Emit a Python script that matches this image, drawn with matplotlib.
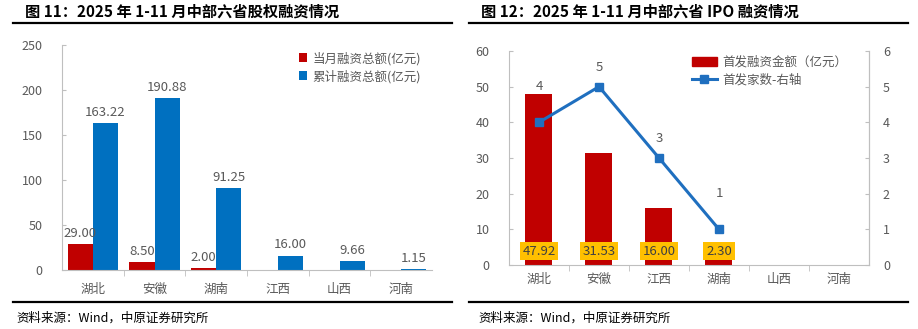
import numpy as np
import matplotlib
matplotlib.use('Agg')
import matplotlib.pyplot as plt
from matplotlib.lines import Line2D
from matplotlib.patches import Patch

plt.rcParams['font.family'] = ['Noto Sans CJK SC', 'DejaVu Sans']

# ---- data ----
prov_left = ['湖北', '安徽', '湖南', '江西', '山西', '河南']
month_total = [29.00, 8.50, 2.00, 0, 0, 0]
cum_total = [163.22, 190.88, 91.25, 16.00, 9.66, 1.15]

prov_right = ['湖北', '安徽', '江西', '湖南', '山西', '河南']
ipo_amount = [47.92, 31.53, 16.00, 2.30, 0, 0]
ipo_count = [4, 5, 3, 1]

RED = '#C00000'
BLUE = '#0070C0'
LINE = '#1F6FBF'
GRAY = '#595959'
SPINE = '#BFBFBF'

W, H = 918, 329
fig = plt.figure(figsize=(W / 100, H / 100), dpi=100, facecolor='white')


def px(x0, y0, x1, y1):
    return [x0 / W, 1 - y1 / H, (x1 - x0) / W, (y1 - y0) / H]


# titles, rules, footers
fig.text(25 / W, 1 - 12 / H, '图 11：2025 年 1-11 月中部六省股权融资情况', fontsize=11,
         fontweight='bold', va='center', ha='left')
fig.text(481 / W, 1 - 12 / H, '图 12：2025 年 1-11 月中部六省 IPO 融资情况', fontsize=11,
         fontweight='bold', va='center', ha='left')
for x0, x1 in [(13, 452), (469, 908)]:
    fig.add_artist(Line2D([x0 / W, x1 / W], [1 - 23 / H] * 2, color='black', lw=1.6))
    fig.add_artist(Line2D([x0 / W, x1 / W], [1 - 302 / H] * 2, color='black', lw=1.6))
fig.text(16 / W, 1 - 318 / H, '资料来源：Wind，中原证券研究所', fontsize=9, va='center')
fig.text(478 / W, 1 - 318 / H, '资料来源：Wind，中原证券研究所', fontsize=9, va='center')

# ---- left chart ----
ax = fig.add_axes(px(62, 45, 432, 270))
x = np.arange(len(prov_left))
bw = 0.41
ax.bar(x - bw / 2, month_total, bw, color=RED, label='当月融资总额(亿元)')
ax.bar(x + bw / 2, cum_total, bw, color=BLUE, label='累计融资总额(亿元)')
for i, v in enumerate(month_total):
    if v > 0:
        ax.annotate(f'{v:.2f}', (x[i] - bw / 2, v), xytext=(0, 3), textcoords='offset points',
                    ha='center', va='bottom', fontsize=9.5, color=GRAY)
for i, v in enumerate(cum_total):
    ax.annotate(f'{v:.2f}', (x[i] + bw / 2, v), xytext=(0, 3), textcoords='offset points',
                ha='center', va='bottom', fontsize=9.5, color=GRAY)
ax.set_xlim(-0.5, len(prov_left) - 0.5)
ax.set_ylim(0, 250)
ax.set_yticks(range(0, 251, 50))
ax.set_xticks(x)
ax.set_xticklabels(prov_left)
ax.set_xticks(np.arange(0.5, len(prov_left) - 0.5, 1), minor=True)
ax.tick_params(axis='x', which='major', length=0, pad=9, labelsize=9, labelcolor=GRAY)
ax.tick_params(axis='x', which='minor', length=4, direction='out', color=SPINE)
ax.tick_params(axis='y', length=3, direction='in', color=SPINE, pad=14, labelsize=9, labelcolor=GRAY)
for s in ['top', 'right']:
    ax.spines[s].set_visible(False)
for s in ['left', 'bottom']:
    ax.spines[s].set_color(SPINE)
ax.legend(loc='upper right', bbox_to_anchor=(1.0, 1.02), frameon=False, fontsize=9,
          handlelength=0.7, handleheight=0.7, handletextpad=0.4, labelspacing=0.35,
          labelcolor=GRAY)

# ---- right chart ----
ax2 = fig.add_axes(px(509, 51, 869, 265))
xr = np.arange(len(prov_right))
ax2.bar(xr, ipo_amount, 0.45, color=RED)
for i, v in enumerate(ipo_amount):
    if v > 0:
        ax2.text(xr[i], 3.9, f'{v:.2f}', ha='center', va='center', fontsize=9.5, color='#404040',
                 bbox=dict(boxstyle='square,pad=0.2', fc='#FFC000', ec='none'))
ax2.set_xlim(-0.5, len(prov_right) - 0.5)
ax2.set_ylim(0, 60)
ax2.set_yticks(range(0, 61, 10))
ax2.set_xticks(xr)
ax2.set_xticklabels(prov_right)
ax2.set_xticks(np.arange(0.5, len(prov_right) - 0.5, 1), minor=True)
ax2.tick_params(axis='x', which='major', length=0, pad=6, labelsize=9, labelcolor=GRAY)
ax2.tick_params(axis='x', which='minor', length=4, direction='out', color=SPINE)
ax2.tick_params(axis='y', length=3, direction='in', color=SPINE, pad=14, labelsize=9, labelcolor=GRAY)
ax2.spines['top'].set_visible(False)
for s in ['left', 'bottom', 'right']:
    ax2.spines[s].set_color(SPINE)

ax3 = ax2.twinx()
xc = np.arange(len(ipo_count))
ax3.plot(xc, ipo_count, color=LINE, lw=2.2, marker='s', ms=6)
label_offsets = [26, 14, 14, 26]
for i, v in enumerate(ipo_count):
    ax3.annotate(str(v), (xc[i], v), xytext=(0, label_offsets[i]), textcoords='offset points',
                 ha='center', va='center', fontsize=9.5, color=GRAY)
ax3.set_ylim(0, 6)
ax3.set_yticks(range(0, 7))
ax3.tick_params(axis='y', length=3, direction='in', color=SPINE, pad=10, labelsize=9, labelcolor=GRAY)
for s in ['top', 'left', 'bottom']:
    ax3.spines[s].set_visible(False)
ax3.spines['right'].set_color(SPINE)

handles = [Patch(color=RED), Line2D([], [], color=LINE, lw=2.2, marker='s', ms=6)]
ax3.legend(handles, ['首发融资金额（亿元）', '首发家数-右轴'], loc='upper right',
           bbox_to_anchor=(0.97, 1.03), frameon=False, fontsize=9, handlelength=2.0,
           handleheight=0.8, handletextpad=0.4, labelspacing=0.35, labelcolor=GRAY)

fig.savefig('out.png', dpi=100, facecolor='white')
